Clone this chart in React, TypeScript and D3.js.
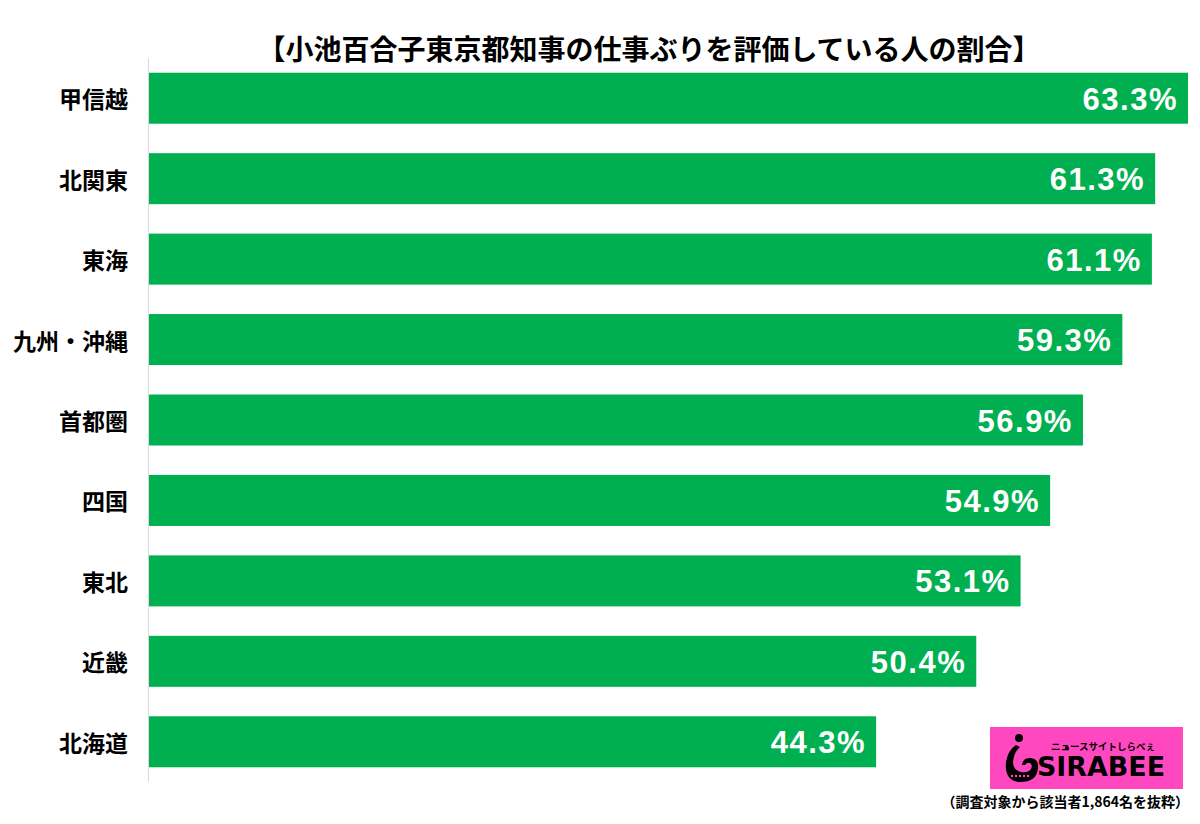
import React from "react";
import * as d3 from "d3";

const categories = ["甲信越", "北関東", "東海", "九州・沖縄", "首都圏", "四国", "東北", "近畿", "北海道"];
const values = [63.3, 61.3, 61.1, 59.3, 56.9, 54.9, 53.1, 50.4, 44.3];
const title = "【小池百合子東京都知事の仕事ぶりを評価している人の割合】";
const footnote = "（調査対象から該当者1,864名を抜粋）";

const W = 1200;
const H = 824;
const X0 = 149;

export default function App() {
  const x = d3.scaleLinear().domain([0, 63.3]).range([X0, 1188]);
  const y = d3
    .scaleBand<string>()
    .domain(categories)
    .range([58, 782])
    .paddingInner(0.366)
    .paddingOuter(0.183);

  const jp = "'Noto Sans CJK JP', 'Noto Sans', sans-serif";
  return (
    <svg
      width={W}
      height={H}
      style={{ position: "absolute", left: 0, top: 0, display: "block", background: "#fff" }}
    >
      <text
        x={649}
        y={48}
        textAnchor="middle"
        dominantBaseline="central"
        fontFamily={jp}
        fontWeight={700}
        fontSize={28}
        fill="#000"
      >
        {title}
      </text>
      {categories.map((c, i) => {
        const y0 = y(c)!;
        const bw = y.bandwidth();
        return (
          <g key={c}>
            <rect x={X0} y={y0} width={x(values[i]) - X0} height={bw} fill="#00B050" />
            <text
              x={128}
              y={y0 + bw / 2}
              textAnchor="end"
              dominantBaseline="central"
              fontFamily={jp}
              fontWeight={700}
              fontSize={23}
              fill="#000"
            >
              {c}
            </text>
            <text
              x={x(values[i]) - 10}
              y={y0 + bw / 2 + 1}
              textAnchor="end"
              dominantBaseline="central"
              fontFamily="'Liberation Sans', Arial, sans-serif"
              fontWeight={700}
              fontSize={31}
              letterSpacing={1.5}
              fill="#fff"
            >
              {values[i].toFixed(1) + "%"}
            </text>
          </g>
        );
      })}
      <line x1={X0 - 0.5} x2={X0 - 0.5} y1={58} y2={782} stroke="#d9d9d9" strokeWidth={1} />
      {/* logo */}
      <g>
        <rect x={990} y={727} width={193} height={62} fill="#FF48C0" />
        <circle cx={1019} cy={738} r={4} fill="#000" />
        <path
          d="M1016 745 Q1008 750 1006 762 Q1004 781 1020 782 Q1037 782 1038 768 Q1039 759 1031 758 Q1023 757 1022 765 L1025 765 Q1027 762 1030 763 Q1033 765 1031 769 Q1028 773 1021 772 Q1013 770 1013 762 Q1014 752 1020 747 Z"
          fill="#000"
        />
        <g fill="#FF48C0">
          {[1012, 1016, 1020, 1024, 1028].map((cx) => (
            <circle key={cx} cx={cx} cy={776} r={1.2} />
          ))}
        </g>
        <text
          x={1037}
          y={776}
          textAnchor="start"
          textLength={128}
          lengthAdjust="spacingAndGlyphs"
          fontFamily="'DejaVu Sans', sans-serif"
          fontWeight={700}
          fontSize={27}
          fill="#000"
        >
          SIRABEE
        </text>
        <circle cx={1067} cy={748} r={2} fill="#000" />
        <text
          x={1155}
          y={750}
          textAnchor="end"
          fontFamily={jp}
          fontWeight={700}
          fontSize={9.5}
          fill="#000"
        >
          ニュースサイトしらべぇ
        </text>
      </g>
      <text
        x={1189}
        y={801}
        textAnchor="end"
        dominantBaseline="central"
        fontFamily={jp}
        fontWeight={700}
        fontSize={14}
        fill="#000"
      >
        {footnote}
      </text>
    </svg>
  );
}
